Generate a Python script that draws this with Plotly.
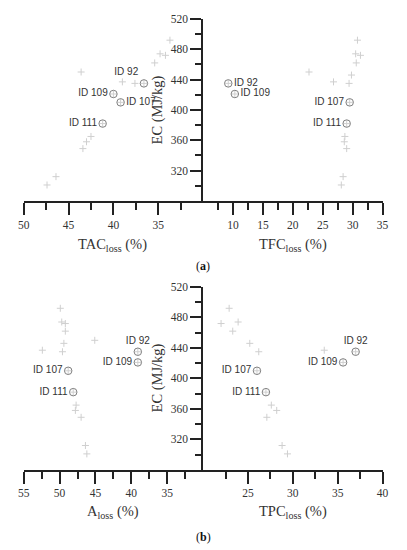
import plotly.graph_objects as go

# EC of all samples (MJ/kg); the four labelled samples are kept apart
ec_other = [492, 474, 472, 462, 450, 446, 437, 435, 365, 358, 349, 312, 301]
tac_other = [33.7, 34.8, 34.2, 35.4, 43.6, None, 39.0, 37.6, 42.5, 43.0, 43.4, 46.4, 47.4]
tfc_other = [30.8, 30.5, 31.3, 30.6, 22.7, 29.8, 26.8, 29.4, 28.7, 28.6, 29.0, 28.4, 28.1]
a_other = [49.9, 49.7, 49.2, 49.2, 45.1, 49.4, 52.4, 49.6, 47.7, 47.8, 47.0, 46.4, 46.2]
tpc_other = [22.9, 23.9, 22.0, 23.3, None, 25.2, 33.5, 26.2, 27.6, 28.2, 27.1, 28.8, 29.4]

hl_ids = ["ID 92", "ID 109", "ID 107", "ID 111"]
hl_ec = [435, 421, 410, 382]
hl_tac = [36.6, 40.0, 39.2, 41.2]
hl_tfc = [9.2, 10.3, 29.5, 29.0]
hl_a = [39.1, 39.1, 48.8, 48.1]
hl_tpc = [37.0, 35.6, 26.0, 27.0]

ec_ticks = [320, 360, 400, 440, 480, 520]
ec_minor = [300, 340, 380, 420, 460, 500]

# the page body adds an 8px margin, so the figure is drawn a little smaller
OFF = 8
W, H = 407 - OFF, 550 - OFF
INK = "#222222"
SERIF = "Liberation Serif"
SANS = "Liberation Sans"


def px(x):
    return (x - OFF) / W


def py(y):
    return 1 - (y - OFF) / H


fig = go.Figure()

panels = [
    # (xaxis, yaxis, x_other, x_hl, text positions)
    ("x", "y", tac_other, hl_tac, ["top left", "middle left", "middle right", "middle left"]),
    ("x2", "y2", tfc_other, hl_tfc, ["middle right", "middle right", "middle left", "middle left"]),
    ("x3", "y3", a_other, hl_a, ["top center", "middle left", "middle left", "middle left"]),
    ("x4", "y4", tpc_other, hl_tpc, ["top center", "middle left", "middle left", "middle left"]),
]

for xa, ya, xo, xh, pos in panels:
    fig.add_trace(go.Scatter(x=xo + xh, y=ec_other + hl_ec, mode="markers",
                             xaxis=xa, yaxis=ya,
                             marker=dict(symbol="cross-thin-open", size=5, color="#cfcfcf",
                                         line=dict(color="#cfcfcf", width=1)),
                             hoverinfo="skip"))
    fig.add_trace(go.Scatter(x=xh, y=hl_ec, mode="markers+text",
                             xaxis=xa, yaxis=ya,
                             text=hl_ids, textposition=pos,
                             textfont=dict(family=SANS, size=10, color="#333333"),
                             marker=dict(symbol="circle-open", size=7.5, color="#808080",
                                         line=dict(color="#808080", width=1))))

tickfont = dict(family=SERIF, size=11.5, color="#333333")


def xaxis(dom, rng, major, minor, anchor):
    return dict(domain=dom, range=rng, anchor=anchor, showgrid=False, zeroline=False,
                showline=True, linecolor=INK, linewidth=1.6,
                ticks="outside", ticklen=12, tickwidth=1.6, tickcolor=INK,
                tickmode="array", tickvals=major, tickfont=tickfont,
                minor=dict(tickmode="array", tickvals=minor, ticks="outside",
                           ticklen=7, tickwidth=1.6, tickcolor=INK))


def yaxis_shown(dom, anchor):
    return dict(domain=dom, range=[280, 520], anchor=anchor, side="left",
                showgrid=False, zeroline=False,
                showline=True, linecolor=INK, linewidth=1.6,
                ticks="outside", ticklen=11, tickwidth=1.6, tickcolor=INK,
                tickmode="array", tickvals=ec_ticks, tickfont=tickfont,
                minor=dict(tickmode="array", tickvals=ec_minor, ticks="outside",
                           ticklen=6, tickwidth=1.6, tickcolor=INK))


def yaxis_hidden(dom, anchor):
    return dict(domain=dom, range=[280, 520], anchor=anchor, visible=False)


left = [px(18), px(203)]
right = [px(203), px(388)]
row_a = [py(197), py(13)]
row_b = [py(469), py(284)]

fig.update_layout(
    width=W, height=H,
    margin=dict(l=0, r=0, t=0, b=0),
    paper_bgcolor="white", plot_bgcolor="white",
    showlegend=False,
    xaxis=xaxis(left, [50, 30], [50, 45, 40, 35], [47.5, 42.5, 37.5, 32.5], "y"),
    yaxis=yaxis_hidden(row_a, "x"),
    xaxis2=xaxis(right, [5, 35], [10, 15, 20, 25, 30, 35], [7.5, 12.5, 17.5, 22.5, 27.5, 32.5], "y2"),
    yaxis2=yaxis_shown(row_a, "x2"),
    xaxis3=xaxis(left, [55, 30], [55, 50, 45, 40, 35], [52.5, 47.5, 42.5, 37.5, 32.5], "y3"),
    yaxis3=yaxis_hidden(row_b, "x3"),
    xaxis4=xaxis(right, [20, 40], [25, 30, 35, 40], [22.5, 27.5, 32.5, 37.5], "y4"),
    yaxis4=yaxis_shown(row_b, "x4"),
)

titlefont = dict(family=SERIF, size=14.5, color="#333333")
labels = [
    (110, 242, "TAC<sub>loss</sub> (%)", 0),
    (296, 242, "TFC<sub>loss</sub> (%)", 0),
    (110, 512, "A<sub>loss</sub> (%)", 0),
    (296, 512, "TPC<sub>loss</sub> (%)", 0),
    (156, 105, "EC (MJ/kg)", -90),
    (156, 376, "EC (MJ/kg)", -90),
]
for x, y, t, ang in labels:
    fig.add_annotation(x=px(x), y=py(y), xref="paper", yref="paper", text=t,
                       showarrow=False, textangle=ang, font=titlefont,
                       xanchor="center", yanchor="middle")

for y, t in [(263, "(<b>a</b>)"), (537, "(<b>b</b>)")]:
    fig.add_annotation(x=px(203), y=py(y), xref="paper", yref="paper", text=t,
                       showarrow=False, font=dict(family=SERIF, size=12, color="#111111"),
                       xanchor="center", yanchor="middle")

fig.write_html("out.html")
